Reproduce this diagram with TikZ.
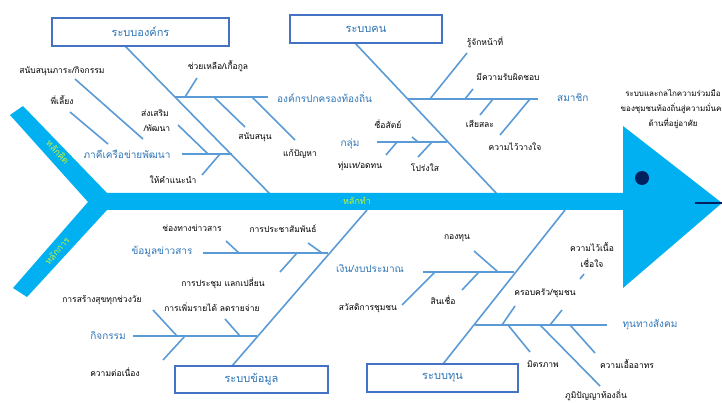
\documentclass[tikz,border=0pt]{standalone}
\usepackage{fontspec}
\newfontfamily\thai[Script=Thai]{Loma}
\definecolor{bonecol}{RGB}{91,155,213}
\definecolor{boxcol}{RGB}{68,114,196}
\definecolor{catcol}{RGB}{46,117,182}
\definecolor{fishcol}{RGB}{0,176,240}
\definecolor{limecol}{RGB}{200,245,50}
\definecolor{navy}{RGB}{0,32,96}
\tikzset{
  bone/.style={draw=bonecol,line width=1.6pt},
  item/.style={inner sep=0pt,font=\thai\fontsize{8.5}{10}\selectfont,text=black},
  cat/.style={inner sep=0pt,font=\thai\fontsize{10}{11}\selectfont,text=catcol},
  sysbox/.style={draw=boxcol,line width=2pt,fill=white,text=catcol,font=\thai\fontsize{11}{12}\selectfont,inner sep=0pt},
  taillbl/.style={inner sep=0pt,font=\thai\fontsize{9}{10}\selectfont,text=limecol},
}
\begin{document}
\begin{tikzpicture}[x=1pt,y=-1pt]
\useasboundingbox (0,0) rectangle (722,403);
% ---------- bones: upper left (organisation) ----------
\coordinate (oA) at (125,46); \coordinate (oB) at (270,194);
\draw[bone] (oA) -- (oB);
\draw[bone] (175,97) -- (268,97);
\draw[bone] (185,97) -- (197,78);
\draw[bone] (214,97) -- (245,127);
\draw[bone] (252,97) -- (295,140);
\draw[bone] (182,154) -- (232,154);
\draw[bone] (178,125) -- (208,154);
\draw[bone] (220,154) -- (202,175);
\draw[bone] (75,79) -- (143,139);
\draw[bone] (70,112) -- (108,144);
% ---------- bones: upper right (people) ----------
\coordinate (pA) at (355,43); \coordinate (pB) at (497,194);
\draw[bone] (pA) -- (pB);
\draw[bone] (408,99) -- (538,99);
\draw[bone] (430,99) -- (467,53);
\draw[bone] (465,99) -- (473,89);
\draw[bone] (493,99) -- (480,115);
\draw[bone] (530,99) -- (500,135);
\draw[bone] (377,142) -- (447,142);
\draw[bone] (412,137) -- (418,142);
\draw[bone] (397,142) -- (386,155);
\draw[bone] (432,142) -- (418,157);
% ---------- bones: lower left (information) ----------
\coordinate (iA) at (367,210); \coordinate (iB) at (232,366);
\draw[bone] (iA) -- (iB);
\draw[bone] (203,253) -- (328,253);
\draw[bone] (226,241) -- (239,253);
\draw[bone] (308,243) -- (322,253);
\draw[bone] (297,253) -- (280,272);
\draw[bone] (133,336) -- (257,336);
\draw[bone] (153,310) -- (177,336);
\draw[bone] (225,319) -- (240,336);
\draw[bone] (185,336) -- (163,360);
% ---------- bones: lower right (capital) ----------
\coordinate (cA) at (565,210); \coordinate (cB) at (443,364);
\draw[bone] (cA) -- (cB);
\draw[bone] (423,272) -- (514,272);
\draw[bone] (474,251) -- (498,272);
\draw[bone] (479,272) -- (462,290);
\draw[bone] (435,272) -- (402,305);
\draw[bone] (475,325) -- (607,325);
\draw[bone] (502,325) -- (515,306);
\draw[bone] (550,325) -- (562,310);
\draw[bone] (580,279) -- (584,274);
\draw[bone] (508,325) -- (530,352);
\draw[bone] (570,325) -- (595,353);
\draw[bone] (540,325) -- (600,386);
% ---------- fish body ----------
\fill[fishcol] (23,106) -- (107,193) -- (625,193) -- (625,210) -- (107,210)
  -- (27,297) -- (13,288) -- (88,202) -- (10,115) -- cycle;
\fill[fishcol] (623,126) -- (722,203) -- (623,288) -- cycle;
\fill[navy] (642,178) circle (7);
\draw[navy,line width=1.5pt] (695,203) -- (722,203);
\node[taillbl,rotate=-47] (tk) at (58,152) {หลักคิด};
\node[taillbl,rotate=49] (tc) at (57,251) {หลักการ};
\node[taillbl] (tt) at (357,201) {หลักทำ};
% ---------- system boxes ----------
\node[sysbox,minimum width=177pt,minimum height=28pt] (bOrg) at (140.5,32) {ระบบองค์กร};
\node[sysbox,minimum width=152pt,minimum height=28pt] (bPeo) at (366,29) {ระบบคน};
\node[sysbox,minimum width=153pt,minimum height=27pt] (bInf) at (251.5,379.5) {ระบบข้อมูล};
\node[sysbox,minimum width=151pt,minimum height=28pt] (bCap) at (442.5,378) {ระบบทุน};
% ---------- head text ----------
\node[item,align=center,font=\thai\fontsize{8}{15}\selectfont] (goal) at (673,109)
  {ระบบและกลไกความร่วมมือ\\ของชุมชนท้องถิ่นสู่ความมั่นคง\\ด้านที่อยู่อาศัย};
% ---------- labels: organisation ----------
\node[cat,anchor=west] (c1) at (277,97) {องค์กรปกครองท้องถิ่น};
\node[item] (l1) at (218,66) {ช่วยเหลือ/เกื้อกูล};
\node[item] (l2) at (255,137) {สนับสนุน};
\node[item] (l3) at (300,154) {แก้ปัญหา};
\node[cat] (c2) at (127,154) {ภาคีเครือข่ายพัฒนา};
\node[item] (l4) at (155,113) {ส่งเสริม};
\node[item] (l5) at (157,128) {/พัฒนา};
\node[item] (l6) at (173,180) {ให้คำแนะนำ};
\node[item] (l7) at (62,71) {สนับสนุนภาระ/กิจกรรม};
\node[item] (l8) at (62,100) {พี่เลี้ยง};
% ---------- labels: people ----------
\node[cat,anchor=west] (c3) at (557,98) {สมาชิก};
\node[item] (m1) at (485,42) {รู้จักหน้าที่};
\node[item] (m2) at (508,77) {มีความรับผิดชอบ};
\node[item] (m3) at (480,124) {เสียสละ};
\node[item] (m4) at (515,147) {ความไว้วางใจ};
\node[cat] (c4) at (350,144) {กลุ่ม};
\node[item] (m5) at (388,124) {ซื่อสัตย์};
\node[item] (m6) at (360,166) {ทุ่มเท/อดทน};
\node[item] (m7) at (425,168) {โปร่งใส};
% ---------- labels: information ----------
\node[cat] (c5) at (162,252) {ข้อมูลข่าวสาร};
\node[item] (n1) at (192,228) {ช่องทางข่าวสาร};
\node[item] (n2) at (283,229) {การประชาสัมพันธ์};
\node[item] (n3) at (223,283) {การประชุม แลกเปลี่ยน};
\node[item] (n4) at (102,300) {การสร้างสุขทุกช่วงวัย};
\node[item] (n5) at (212,307) {การเพิ่มรายได้ ลดรายจ่าย};
\node[cat] (c6) at (108,336) {กิจกรรม};
\node[item] (n6) at (115,372) {ความต่อเนื่อง};
% ---------- labels: capital ----------
\node[cat] (c7) at (370,269) {เงิน/งบประมาณ};
\node[item] (k1) at (457,238) {กองทุน};
\node[item] (k2) at (443,300) {สินเชื่อ};
\node[item] (k3) at (368,308) {สวัสดิการชุมชน};
\node[item] (k4) at (592,247) {ความไว้เนื้อ};
\node[item] (k5) at (592,263) {เชื่อใจ};
\node[item] (k6) at (545,293) {ครอบครัว/ชุมชน};
\node[cat] (c8) at (650,325) {ทุนทางสังคม};
\node[item] (k7) at (543,364) {มิตรภาพ};
\node[item] (k8) at (627,364) {ความเอื้ออาทร};
\node[item] (k9) at (596,395) {ภูมิปัญญาท้องถิ่น};
\end{tikzpicture}
\end{document}
